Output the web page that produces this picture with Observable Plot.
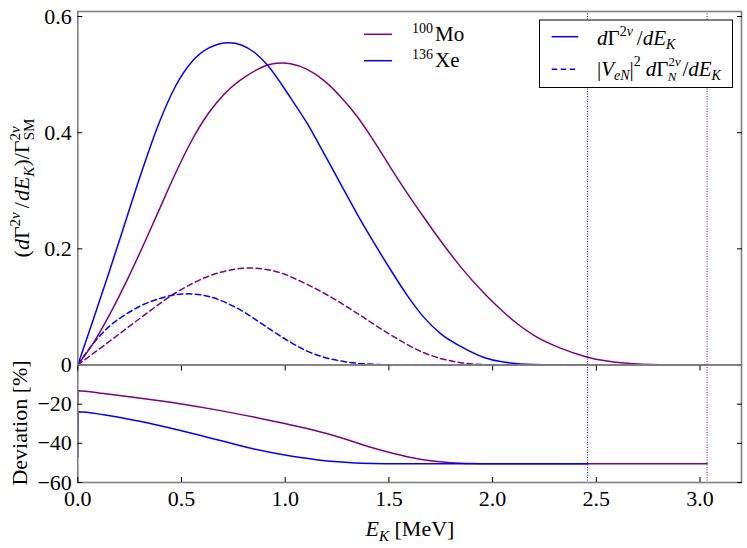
<!DOCTYPE html>
<html><head><meta charset="utf-8">
<script src="https://cdn.jsdelivr.net/npm/d3@7"></script>
<script src="https://cdn.jsdelivr.net/npm/@observablehq/plot@0.6"></script>
<style>
html,body{margin:0;padding:0;background:#fff;}
#chart{position:relative;width:747px;height:548px;overflow:hidden;}
#top,#bottom,#overlay{position:absolute;left:0;}
#top{top:0;} #bottom{top:364px;} #overlay{top:0;pointer-events:none;}
#chart text, #chart svg{font-family:'Liberation Serif','LiberationSerif','DejaVu Serif','Times New Roman',Times,'Nimbus Roman','Nimbus Roman No9 L',FreeSerif,'Noto Serif',Tinos,serif !important;}
</style></head><body>
<div id="chart"><div id="top"></div><div id="bottom"></div><svg id="overlay" width="747" height="548"></svg></div>
<script>
// ---- data ----
const xTicks = [0, 0.5, 1.0, 1.5, 2.0, 2.5, 3.0];
const yTicksTop = [0, 0.2, 0.4, 0.6];
const yTicksDev = [-20, -40, -60];
const qXe = 2.458, qMo = 3.034;          // spectrum endpoints [MeV]

// 100Mo total spectrum dΓ/dE_K / Γ_SM
const moE    = [0, 0.07, 0.15, 0.23, 0.31, 0.39, 0.47, 0.55, 0.63, 0.71, 0.81, 0.93, 0.985, 1.026, 1.106, 1.186, 1.267, 1.347, 1.427, 1.508, 1.588, 1.669, 1.749, 1.846, 1.958, 2.038, 2.119, 2.199, 2.327, 2.458, 2.649, 2.81, 3.034];
const moRate = [0, 0.035, 0.0846, 0.1406, 0.2014, 0.2654, 0.3294, 0.387, 0.4334, 0.468, 0.497, 0.5177, 0.520, 0.5187, 0.509, 0.490, 0.462, 0.428, 0.386, 0.340, 0.296, 0.254, 0.214, 0.169, 0.124, 0.096, 0.071, 0.051, 0.029, 0.0134, 0.003, 0.0006, 0];
// 136Xe total spectrum
const xeE    = [0, 0.069, 0.15, 0.23, 0.31, 0.391, 0.471, 0.552, 0.632, 0.728, 0.849, 0.913, 1.026, 1.106, 1.186, 1.267, 1.347, 1.427, 1.508, 1.588, 1.669, 1.749, 1.846, 1.958, 2.038, 2.2, 2.458];
const xeRate = [0, 0.0725, 0.159, 0.247, 0.335, 0.416, 0.480, 0.523, 0.546, 0.555, 0.539, 0.517, 0.460, 0.416, 0.365, 0.312, 0.260, 0.211, 0.164, 0.120, 0.082, 0.054, 0.032, 0.013, 0.006, 0.001, 0];
// 100Mo sterile contribution |V_eN|^2 dΓ_N/dE_K
const moNE    = [0, 0.15, 0.31, 0.471, 0.632, 0.792, 0.825, 0.993, 1.026, 1.186, 1.347, 1.508, 1.669, 1.846, 1.95, 2.05, 3.034];
const moNRate = [0, 0.040, 0.083, 0.124, 0.153, 0.1665, 0.167, 0.157, 0.152, 0.124, 0.089, 0.052, 0.021, 0.004, 0.0008, 0, 0];
// 136Xe sterile contribution
const xeNE    = [0, 0.07, 0.15, 0.23, 0.31, 0.39, 0.471, 0.535, 0.632, 0.768, 0.929, 1.026, 1.106, 1.186, 1.267, 1.347, 1.45, 1.55, 2.458];
const xeNRate = [0, 0.035, 0.066, 0.087, 0.103, 0.114, 0.121, 0.1225, 0.118, 0.098, 0.061, 0.039, 0.024, 0.0135, 0.007, 0.003, 0.0008, 0, 0];
// Deviation [%]
const moDevE = [0, 0.002, 0.125, 0.286, 0.5, 0.688, 0.849, 0.992, 1.1, 1.2, 1.3, 1.4, 1.5, 1.6, 1.7, 1.8, 1.9, 2.0, 3.034];
const moDev  = [-20, -13.2, -14.6, -16.7, -19.9, -23.3, -26.6, -29.7, -32.3, -35.0, -38.2, -41.6, -44.6, -47.1, -48.9, -49.9, -50.3, -50.4, -50.4];
const xeDevE = [0, 0.002, 0.125, 0.286, 0.5, 0.688, 0.849, 0.992, 1.074, 1.17, 1.234, 1.32, 1.42, 1.55, 2.458];
const xeDev  = [-47, -23.9, -25.4, -28.5, -33.6, -38.6, -42.9, -45.8, -47.2, -48.6, -49.3, -49.9, -50.25, -50.4, -50.4];

// ---- build ----
const rows = (E, V) => E.map((e, i) => ({E: e, V: V[i]}));
const PURPLE = "#800080", BLUE = "#0000ff", FRAME = "#808080";
const FONT = "'Liberation Serif','DejaVu Serif','Times New Roman',Times,FreeSerif,serif";
const style = {fontFamily: FONT, fontSize: "22px", color: "black", background: "transparent", overflow: "visible"};
const lineOpt = (stroke, dashed) => ({x: "E", y: "V", stroke, strokeWidth: 1.5, curve: "monotone-x", strokeDasharray: dashed ? "5.5,3.5" : null});
const blankFmt = () => "";
const endRules = () => [
  Plot.ruleX([qXe], {stroke: BLUE, strokeWidth: 1, strokeDasharray: "1,1.5"}),
  Plot.ruleX([qMo], {stroke: PURPLE, strokeWidth: 1, strokeDasharray: "1,1.5"})
];

const topPlot = Plot.plot({
  width: 747, height: 365,
  marginLeft: 77.3, marginRight: 6, marginTop: 11, marginBottom: 0.5,
  style,
  x: {domain: [0, 3.2], axis: null},
  y: {domain: [0, 0.6087]},
  marks: [
    ...endRules(),
    Plot.line(rows(moNE, moNRate), lineOpt(PURPLE, true)),
    Plot.line(rows(xeNE, xeNRate), lineOpt(BLUE, true)),
    Plot.line(rows(moE, moRate), lineOpt(PURPLE, false)),
    Plot.line(rows(xeE, xeRate), lineOpt(BLUE, false)),
    Plot.frame({stroke: FRAME, strokeWidth: 1.6}),
    Plot.axisY({ticks: yTicksTop, tickSize: 0, tickPadding: 6, tickFormat: d => d === 0 ? "0" : d.toFixed(1), label: null}),
    Plot.axisY({ticks: yTicksTop, tickSize: -5, tickFormat: blankFmt, label: null}),
    Plot.axisY({anchor: "right", ticks: yTicksTop, tickSize: -5, tickFormat: blankFmt, label: null})
  ]
});
document.getElementById("top").appendChild(topPlot);

const botPlot = Plot.plot({
  width: 747, height: 184,
  marginLeft: 77.3, marginRight: 6, marginTop: 0.5, marginBottom: 66,
  style,
  x: {domain: [0, 3.2]},
  y: {domain: [-60, 0]},
  marks: [
    ...endRules(),
    Plot.line(rows(moDevE, moDev), lineOpt(PURPLE, false)),
    Plot.line(rows(xeDevE, xeDev), lineOpt(BLUE, false)),
    Plot.frame({stroke: FRAME, strokeWidth: 1.6}),
    Plot.axisY({ticks: yTicksDev, tickSize: 0, tickPadding: 6, tickFormat: d => "\u2212" + Math.abs(d), label: null}),
    Plot.axisY({ticks: yTicksDev, tickSize: -5, tickFormat: blankFmt, label: null}),
    Plot.axisY({anchor: "right", ticks: yTicksDev, tickSize: -5, tickFormat: blankFmt, label: null}),
    Plot.axisX({ticks: xTicks, tickSize: 0, tickPadding: 7.5, tickFormat: d => d.toFixed(1), label: null}),
    Plot.axisX({ticks: xTicks, tickSize: -5, tickFormat: blankFmt, label: null}),
    Plot.axisX({anchor: "top", ticks: xTicks, tickSize: -5, tickFormat: blankFmt, label: null})
  ]
});
document.getElementById("bottom").appendChild(botPlot);

// ---- titles & legends (text with super/subscripts) ----
const ov = document.getElementById("overlay");
ov.innerHTML = `
<g fill="black">
  <text transform="translate(29,188) rotate(-90)" text-anchor="middle" font-size="22">(<tspan font-style="italic">d</tspan>Γ<tspan font-size="15" dy="-9">2<tspan font-style="italic">ν</tspan></tspan><tspan dy="9" dx="4">/</tspan><tspan font-style="italic" dx="1">dE</tspan><tspan font-size="15" dy="5" font-style="italic">K</tspan><tspan dy="-5">)/Γ</tspan><tspan font-size="15" dy="-9">2<tspan font-style="italic">ν</tspan></tspan><tspan font-size="15" dx="-14" dy="14">SM</tspan></text>
  <text transform="translate(27,423) rotate(-90)" text-anchor="middle" font-size="22">Deviation  [%]</text>
  <text x="410" y="536" text-anchor="middle" font-size="22"><tspan font-style="italic">E</tspan><tspan font-size="15" dy="5" font-style="italic">K</tspan><tspan dy="-5"> [MeV]</tspan></text>

  <line x1="364" x2="392" y1="34.3" y2="34.3" stroke="${PURPLE}" stroke-width="1.5"/>
  <text x="412" y="41" font-size="21"><tspan font-size="14" dy="-8">100</tspan><tspan dy="8" dx="2">Mo</tspan></text>
  <line x1="364" x2="392" y1="60.7" y2="60.7" stroke="${BLUE}" stroke-width="1.5"/>
  <text x="412" y="67" font-size="21"><tspan font-size="14" dy="-8">136</tspan><tspan dy="8" dx="2">Xe</tspan></text>

  <rect x="539.5" y="20" width="193" height="67.5" fill="white" stroke="black" stroke-width="1"/>
  <line x1="551.7" x2="578.3" y1="36.7" y2="36.7" stroke="${BLUE}" stroke-width="1.5"/>
  <text x="597" y="45" font-size="21"><tspan font-style="italic">d</tspan>Γ<tspan font-size="14" dy="-9">2<tspan font-style="italic">ν</tspan></tspan><tspan dy="9" dx="4">/</tspan><tspan font-style="italic">dE</tspan><tspan font-size="14" dy="4" font-style="italic">K</tspan></text>
  <line x1="551.7" x2="578.3" y1="69.3" y2="69.3" stroke="${BLUE}" stroke-width="1.5" stroke-dasharray="5.5,3.5"/>
  <text x="597" y="76" font-size="21">|<tspan font-style="italic">V</tspan><tspan font-size="14" dy="4" font-style="italic">eN</tspan><tspan dy="-4">|</tspan><tspan font-size="14" dy="-10">2</tspan><tspan dy="10" dx="5"><tspan font-style="italic">d</tspan>Γ</tspan><tspan font-size="13" dy="-10">2<tspan font-style="italic">ν</tspan></tspan><tspan font-size="13" dx="-13" dy="15" font-style="italic">N</tspan><tspan dy="-5" dx="6">/</tspan><tspan font-style="italic">dE</tspan><tspan font-size="14" dy="4" font-style="italic">K</tspan></text>
</g>`;
</script>
</body></html>
